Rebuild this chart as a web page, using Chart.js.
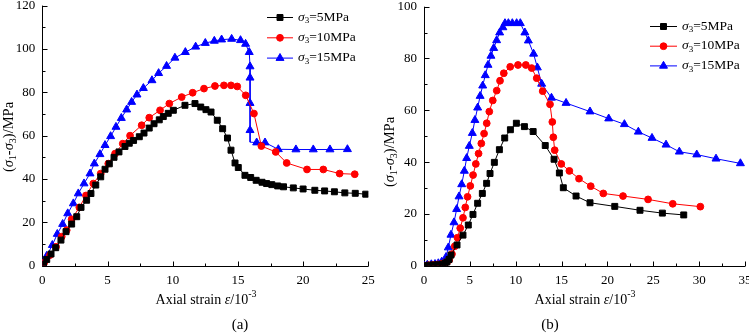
<!DOCTYPE html>
<html>
<head>
<meta charset="utf-8">
<script src="https://cdn.jsdelivr.net/npm/chart.js@4.4.1/dist/chart.umd.min.js"></script>
<style>
  html, body { margin: 0; padding: 0; background: #fff; overflow: hidden; }
  #wrap { position: relative; width: 749px; height: 333px; overflow: hidden; }
</style>
</head>
<body>
<div id="wrap">
  <canvas id="chartA" width="375" height="333" style="position:absolute;left:0;top:0"></canvas>
  <canvas id="chartB" width="380" height="333" style="position:absolute;left:375px;top:0"></canvas>
</div>
<script>
// --- Data (strain in 10^-3, deviator stress in MPa) ---

// (a)
const a5x = [0.1, 0.34, 0.67, 1.03, 1.43, 1.82, 2.25, 2.64, 2.97, 3.4, 3.73, 4.1, 4.48, 4.81, 5.14, 5.5, 5.88, 6.34, 6.67, 7.0, 7.44, 7.8, 8.2, 8.57, 8.97, 9.28, 9.66, 10.05, 10.94, 11.71, 12.15, 12.55, 12.94, 13.42, 13.83, 14.2, 14.47, 14.78, 15.03, 15.54, 15.98, 16.4, 16.85, 17.2, 17.6, 18.05, 18.5, 19.25, 20.0, 20.9, 21.65, 22.4, 23.2, 24.0, 24.8];
const a5y = [0.5, 2.9, 5.4, 8.3, 11.8, 15.7, 19.2, 22.6, 26.9, 30.2, 33.3, 37.2, 41, 44.5, 47, 50, 52.5, 55, 56.5, 57.8, 59.5, 61.2, 63.5, 65.5, 67.3, 68.8, 70.3, 71.7, 74, 74.8, 73.2, 72, 70.9, 67.1, 63.2, 58.9, 53.3, 47.4, 45.3, 41.7, 40.7, 39.4, 38.5, 37.9, 37.4, 36.8, 36.4, 35.9, 35.4, 34.8, 34.5, 34.1, 33.6, 33.4, 33.0];

const a10x = [0.15, 0.59, 1.05, 1.49, 1.87, 2.25, 2.84, 3.35, 3.91, 4.48, 5.06, 5.58, 6.17, 6.73, 7.62, 8.2, 9.03, 9.74, 10.69, 11.53, 12.4, 13.24, 13.93, 14.47, 14.95, 15.6, 16.23, 16.8, 17.9, 18.74, 20.3, 21.55, 22.8, 23.96];
const a10y = [1.5, 4.9, 8.7, 13.4, 16.4, 21.4, 26.9, 32.4, 37.9, 42.5, 47.1, 51.7, 56.3, 60, 64.8, 68.3, 71.7, 74.8, 77.8, 79.8, 81.7, 82.9, 83.2, 83.2, 82.7, 78.6, 70.2, 55.2, 52.5, 47.4, 44.4, 44.4, 42.5, 42.2];

const a15x = [0.05, 0.34, 0.77, 1.15, 1.56, 1.95, 2.38, 2.76, 3.2, 3.66, 3.99, 4.42, 4.81, 5.24, 5.65, 6.06, 6.47, 6.85, 7.26, 7.75, 8.41, 8.92, 9.53, 10.17, 10.97, 11.76, 12.5, 13.19, 13.75, 14.52, 15.2, 15.59, 15.87, 15.93, 15.93, 15.93, 15.93, 15.95, 16.44, 17.08, 18.1, 19.45, 20.78, 22.06, 23.4];
const a15y = [0.8, 4.5, 9.5, 14.6, 19.2, 24.1, 28.7, 33.3, 37.9, 42.5, 47.1, 51.4, 55.6, 59.7, 64, 68.1, 72, 75.5, 78.9, 81.9, 85.5, 88.8, 92.1, 95.9, 98.5, 101, 102.7, 103.7, 104.3, 104.6, 104, 102.3, 98.5, 91.9, 86.7, 75, 62.5, 57, 56.8, 56.8, 53.7, 53.6, 53.6, 53.6, 53.7];

// (b)
const b5x = [0, 0.5, 1.0, 1.5, 2.0, 2.3, 2.5, 2.73, 2.94, 3.6, 4.25, 4.83, 5.34, 5.85, 6.36, 6.83, 7.2, 7.67, 8.22, 8.8, 9.42, 10.07, 10.95, 11.9, 13.22, 14.18, 14.76, 15.19, 16.58, 18.1, 20.8, 23.55, 25.99, 28.32];
const b5y = [0, 0.2, 0.3, 0.4, 0.6, 0.9, 1.4, 2.4, 4.1, 8, 11.8, 15.7, 19.8, 24.1, 27.9, 31.8, 35.6, 39.9, 44.8, 49.3, 52.5, 55, 53.7, 51.8, 46.4, 41.1, 35.8, 30.1, 26.9, 24.3, 22.9, 21.4, 20.3, 19.6];

const b10x = [0, 0.5, 1.0, 1.5, 2.0, 2.4, 2.75, 3.05, 3.35, 3.65, 3.95, 4.25, 4.5, 4.75, 5.05, 5.35, 5.65, 5.95, 6.25, 6.55, 6.84, 7.12, 7.5, 7.93, 8.29, 8.7, 9.4, 10.25, 11.1, 11.74, 12.29, 12.94, 13.74, 13.99, 14.1, 14.25, 14.97, 15.85, 16.9, 18.18, 19.55, 21.7, 24.43, 27.12, 30.13];
const b10y = [0, 0.2, 0.3, 0.5, 0.8, 1.3, 2.2, 4.5, 7.5, 10.8, 14.5, 18.5, 22.5, 26.6, 30.8, 35, 39.3, 43.3, 47.2, 51, 55, 59.5, 63.8, 67.6, 71.4, 74.3, 76.8, 77.5, 77.5, 76.3, 72.4, 67.4, 62.3, 55.5, 49.6, 44.6, 39.3, 36.6, 33.6, 30.7, 27.9, 26.9, 25.6, 23.9, 22.8];

const b15x = [0, 0.36, 0.8, 1.2, 1.56, 1.93, 2.4, 2.65, 2.94, 3.27, 3.56, 3.82, 4.11, 4.4, 4.65, 4.94, 5.27, 5.55, 5.85, 6.12, 6.4, 6.68, 6.98, 7.3, 7.6, 7.92, 8.25, 8.6, 8.83, 9.2, 9.63, 10.1, 10.5, 11.0, 11.38, 11.95, 12.36, 12.83, 13.9, 15.49, 18.1, 20.14, 21.85, 23.37, 24.86, 26.39, 27.84, 29.74, 31.84, 34.5];
const b15y = [0, 0.3, 0.5, 0.6, 0.9, 1.5, 3.3, 7, 11.9, 16.7, 21.8, 26.7, 31.4, 36.6, 41.5, 46.2, 51.2, 56.2, 61, 65.5, 69.5, 73.5, 77.5, 81, 84, 87, 90, 92, 93.6, 93.6, 93.6, 93.6, 93.6, 90, 86.9, 81.8, 76.5, 70.2, 64.8, 62.8, 59.5, 56.8, 54.6, 51.7, 49.3, 46.7, 44, 42.9, 41.3, 39.5];

const seriesLabels = ['5MPa', '10MPa', '15MPa'];
const xTicksA = [0, 25, 5];   // min, max, step
const yTicksA = [0, 120, 20];
const xTicksB = [0, 35, 5];
const yTicksB = [0, 100, 20];

// --- Helpers ---

const FONT = "'Liberation Serif', 'Times New Roman', serif";
const styles = [
  { color: '#000000', pointStyle: 'rect', radius: 4.2 },
  { color: '#ff0000', pointStyle: 'circle', radius: 3.4 },
  { color: '#0000ff', pointStyle: 'triangle', radius: 4.6 }
];

function pts(xs, ys) {
  return xs.map((x, i) => ({ x: x, y: ys[i] }));
}

function makeDataset(i, xs, ys, extra) {
  const s = styles[i];
  return Object.assign({
    label: seriesLabels[i],
    data: pts(xs, ys),
    borderColor: s.color,
    backgroundColor: s.color,
    borderWidth: 1,
    pointStyle: s.pointStyle,
    pointRadius: s.radius,
    pointBorderWidth: 1,
    pointBackgroundColor: s.color,
    pointBorderColor: s.color,
    tension: 0
  }, extra || {});
}

// text made of pieces: {t, it, sub, sup}
function richParts(ctx, parts, size) {
  return parts.map(p => {
    const small = p.sub || p.sup;
    const fs = small ? Math.round(size * 0.68) : size;
    const font = (p.it ? 'italic ' : '') + fs + 'px ' + FONT;
    ctx.font = font;
    return { t: p.t, font: font, w: ctx.measureText(p.t).width, dy: p.sub ? size * 0.28 : (p.sup ? -size * 0.38 : 0) };
  });
}

function drawRich(ctx, parts, size, x, y, align) {
  const list = richParts(ctx, parts, size);
  const total = list.reduce((s, p) => s + p.w, 0);
  let cx = align === 'center' ? x - total / 2 : x;
  ctx.textBaseline = 'middle';
  ctx.textAlign = 'left';
  list.forEach(p => {
    ctx.font = p.font;
    ctx.fillText(p.t, cx, y + p.dy);
    cx += p.w;
  });
}

const xTitleParts = [{ t: 'Axial strain ' }, { t: 'ε', it: true }, { t: '/10' }, { t: '-3', sup: true }];
const yTitleParts = [{ t: '(' }, { t: 'σ', it: true }, { t: '1', sub: true }, { t: '-' }, { t: 'σ', it: true }, { t: '3', sub: true }, { t: ')/MPa' }];

// axes, inward ticks, legend and captions
const decoPlugin = {
  id: 'deco',
  beforeDatasetsDraw(chart) {
    const o = chart.options.plugins.deco;
    const { ctx, chartArea: a, scales: { x, y } } = chart;
    ctx.save();
    ctx.strokeStyle = '#000';
    ctx.lineWidth = 1;
    ctx.beginPath();
    const L = Math.round(a.left) + 0.5, B = Math.round(a.bottom) + 0.5;
    ctx.moveTo(L, a.top);
    ctx.lineTo(L, B);
    ctx.lineTo(a.right, B);
    const xStep = o.xMajor / 2, yStep = o.yMajor / 2;
    for (let k = 0; x.min + k * xStep <= x.max + 1e-9; k++) {
      const px = Math.round(x.getPixelForValue(x.min + k * xStep)) + 0.5;
      const len = k % 2 === 0 ? 5 : 3;
      ctx.moveTo(px, B);
      ctx.lineTo(px, B - len);
    }
    for (let k = 0; y.min + k * yStep <= y.max + 1e-9; k++) {
      const py = Math.round(y.getPixelForValue(y.min + k * yStep)) + 0.5;
      const len = k % 2 === 0 ? 5 : 3;
      ctx.moveTo(L, py);
      ctx.lineTo(L + len, py);
    }
    ctx.stroke();
    ctx.restore();
  },
  afterDraw(chart) {
    const o = chart.options.plugins.deco;
    const ctx = chart.ctx;
    ctx.save();
    ctx.translate(-o.offX, 0);
    ctx.fillStyle = '#000';

    // legend
    chart.data.datasets.forEach((ds, i) => {
      const ry = o.legendY + i * o.legendGap;
      const s = styles[i];
      ctx.strokeStyle = s.color;
      ctx.lineWidth = 1;
      ctx.beginPath();
      ctx.moveTo(o.legendX, ry + 0.5);
      ctx.lineTo(o.legendX + o.legendLen, ry + 0.5);
      ctx.stroke();
      ctx.fillStyle = s.color;
      Chart.helpers.drawPoint(ctx, { pointStyle: s.pointStyle, rotation: 0, radius: s.radius, borderWidth: 1 },
        o.legendX + o.legendLen / 2, ry + 0.5);
      ctx.fillStyle = '#000';
      drawRich(ctx, [{ t: 'σ', it: true }, { t: '3', sub: true }, { t: '=' + ds.label }], 13.5,
        o.legendX + o.legendLen + 5, ry, 'left');
    });

    // x title
    drawRich(ctx, xTitleParts, 14, o.xTitle[0], o.xTitle[1], 'center');

    // y title (rotated)
    ctx.save();
    ctx.translate(o.yTitle[0], o.yTitle[1]);
    ctx.rotate(-Math.PI / 2);
    drawRich(ctx, yTitleParts, 14.5, 0, 0, 'center');
    ctx.restore();

    // panel caption
    ctx.font = '15px ' + FONT;
    ctx.textAlign = 'center';
    ctx.textBaseline = 'middle';
    ctx.fillText(o.caption, o.capPos[0], o.capPos[1]);
    ctx.restore();
  }
};

function makeChart(canvasId, datasets, xr, yr, opts) {
  const tickFont = { family: FONT, size: 13 };
  return new Chart(document.getElementById(canvasId), {
    type: 'line',
    data: { datasets: datasets },
    options: {
      responsive: false,
      animation: false,
      events: [],
      devicePixelRatio: 1,
      layout: { padding: opts.padding },
      scales: {
        x: {
          type: 'linear', min: xr[0], max: xr[1],
          ticks: { stepSize: xr[2], color: '#000', font: tickFont, padding: 7, maxRotation: 0 },
          grid: { display: false, drawTicks: false },
          border: { display: false },
          // fixed box so the plot area lands where the figure has it
          afterFit: s => { s.height = 30; s.paddingLeft = 0; s.paddingRight = 0; }
        },
        y: {
          type: 'linear', min: yr[0], max: yr[1],
          ticks: { stepSize: yr[2], color: '#000', font: tickFont, padding: 7 },
          grid: { display: false, drawTicks: false },
          border: { display: false },
          afterFit: s => { s.width = opts.yWidth; s.paddingTop = 0; s.paddingBottom = 0; }
        }
      },
      plugins: {
        legend: { display: false },
        tooltip: { enabled: false },
        deco: opts.deco
      }
    },
    plugins: [decoPlugin]
  });
}

// --- Charts ---

makeChart('chartA', [
  makeDataset(0, a5x, a5y),
  makeDataset(1, a10x, a10y),
  // the corner point of the vertical drop carries no marker
  makeDataset(2, a15x, a15y, { pointRadius: c => (c.dataIndex === 37 ? 0 : styles[2].radius) })
], xTicksA, yTicksA, {
  padding: { left: 0, right: 6.7, top: 5, bottom: 37.3 },
  yWidth: 42.3,
  deco: {
    offX: 0, xMajor: 5, yMajor: 20,
    legendX: 267, legendLen: 26, legendY: 17, legendGap: 20.3,
    xTitle: [206, 300], yTitle: [9, 137], caption: '(a)', capPos: [240, 325]
  }
});

makeChart('chartB', [
  makeDataset(0, b5x, b5y),
  makeDataset(1, b10x, b10y),
  makeDataset(2, b15x, b15y)
], xTicksB, yTicksB, {
  padding: { left: 0, right: 10, top: 6.7, bottom: 37.3 },
  yWidth: 49,
  deco: {
    offX: 375, xMajor: 5, yMajor: 20,
    legendX: 650, legendLen: 27, legendY: 26, legendGap: 19.7,
    xTitle: [585, 300], yTitle: [390, 152], caption: '(b)', capPos: [550, 325]
  }
});
</script>
</body>
</html>
